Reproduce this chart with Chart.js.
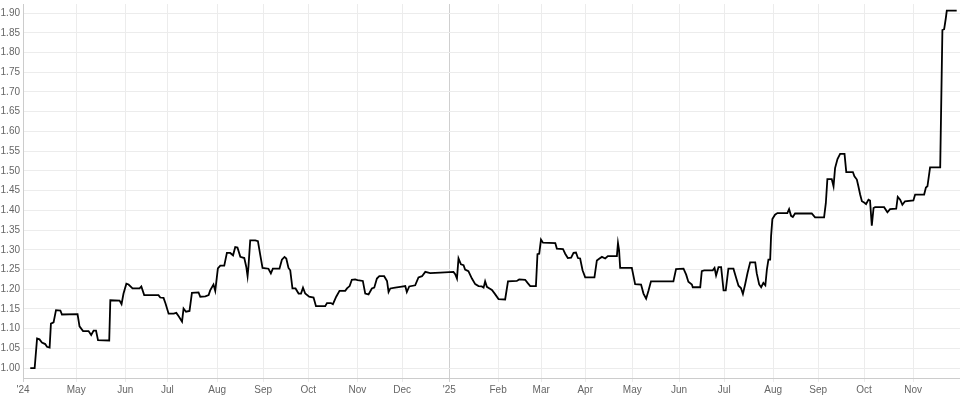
<!DOCTYPE html>
<html>
<head>
<meta charset="utf-8">
<script src="https://cdn.jsdelivr.net/npm/chart.js@4/dist/chart.umd.min.js"></script>
<style>
  html, body { margin: 0; padding: 0; background: #fff; }
  #wrap { width: 960px; height: 404px; position: relative; }
</style>
</head>
<body>
<div id="wrap"><canvas id="c"></canvas></div>
<script>
// Trading-day index since the start of the x axis
const tradingDay = [
  3.3, 5.3, 6.4, 7.5, 8.6, 10.1, 10.9, 12.1, 12.7, 13.9, 15.0, 17.0, 17.7, 24.8, 25.7, 27.3, 29.8, 31.0, 32.1, 33.2,
  34.1, 39.2, 39.7, 43.9, 44.8, 45.7, 47.0, 48.0, 49.8, 53.0, 53.8, 55.1, 61.6, 62.4, 63.9, 64.8, 66.2, 68.5, 69.7, 70.7,
  72.3, 73.0, 74.1, 75.7, 76.8, 79.8, 80.6, 82.9, 84.4, 85.1, 86.6, 87.4, 88.6, 89.7, 91.5, 92.7, 94.2, 95.5, 96.5, 97.5,
  98.8, 100.6, 101.5, 102.1, 102.5, 103.3, 105.6, 106.8, 107.9, 108.9, 111.6, 112.7, 113.6, 116.6, 117.7, 118.9, 119.7, 120.7, 121.5, 122.5,
  123.9, 125.3, 126.4, 127.3, 128.3, 130.1, 132.1, 133.2, 137.4, 138.2, 140.0, 140.9, 142.4, 143.9, 146.5, 147.3, 148.5, 149.5, 151.0, 152.1,
  154.5, 155.6, 157.1, 158.6, 159.7, 160.9, 162.0, 164.2, 165.5, 166.2, 167.0, 169.2, 171.5, 173.8, 174.5, 175.6, 178.3, 179.8, 181.4, 182.9,
  185.1, 189.7, 195.7, 196.5, 197.3, 198.0, 199.1, 200.3, 201.0, 202.5, 204.1, 205.6, 207.1, 208.6, 209.4, 210.1, 210.9, 212.1, 213.2, 214.7,
  216.2, 219.2, 220.5, 224.5, 225.6, 228.3, 229.4, 230.6, 233.2, 233.9, 234.7, 235.5, 236.4, 242.0, 242.7, 245.5, 246.5, 247.7, 249.2, 250.3,
  251.4, 252.3, 253.3, 254.4, 255.6, 259.8, 260.9, 262.1, 263.2, 264.7, 265.9, 270.0, 270.5, 271.0, 271.5, 276.8, 278.3, 281.0, 282.1, 283.3,
  284.4, 285.5, 295.7, 296.9, 300.3, 301.5, 302.5, 304.1, 304.5, 307.9, 308.6, 309.7, 313.6, 314.4, 315.1, 316.2, 317.4, 318.5, 319.5, 320.7,
  323.0, 324.2, 325.3, 326.4, 327.3, 328.3, 329.4, 330.6, 332.9, 333.6, 334.7, 335.6, 336.6, 337.5, 338.2, 338.9, 339.7, 340.1, 340.7, 341.9,
  343.0, 347.5, 348.3, 349.2, 350.0, 351.0, 358.6, 360.1, 364.2, 365.0, 365.7, 367.7, 368.5, 369.2, 370.3, 371.5, 373.5, 374.3, 377.3, 378.0,
  379.1, 379.8, 380.6, 381.4, 382.4, 383.3, 384.4, 385.1, 385.9, 386.7, 387.4, 391.5, 393.0, 394.2, 397.0, 397.7, 398.8, 399.8, 401.0, 404.8,
  405.6, 409.7, 410.5, 411.2, 412.4, 417.0, 418.0, 418.8, 419.5, 420.0, 424.5
];
const closeValue = [
  1.000, 1.000, 1.075, 1.073, 1.065, 1.061, 1.054, 1.052, 1.113, 1.116, 1.147, 1.146, 1.136, 1.137, 1.106, 1.094, 1.094, 1.084, 1.095, 1.095,
  1.071, 1.070, 1.172, 1.171, 1.162, 1.189, 1.214, 1.212, 1.202, 1.202, 1.207, 1.185, 1.185, 1.179, 1.178, 1.164, 1.138, 1.138, 1.140, 1.132,
  1.118, 1.151, 1.143, 1.145, 1.191, 1.192, 1.181, 1.182, 1.185, 1.197, 1.212, 1.196, 1.253, 1.260, 1.260, 1.292, 1.292, 1.286, 1.307, 1.306,
  1.282, 1.279, 1.257, 1.233, 1.257, 1.324, 1.324, 1.322, 1.286, 1.254, 1.252, 1.240, 1.252, 1.252, 1.275, 1.282, 1.278, 1.254, 1.248, 1.202,
  1.202, 1.189, 1.189, 1.204, 1.189, 1.181, 1.179, 1.157, 1.157, 1.165, 1.165, 1.162, 1.181, 1.196, 1.196, 1.202, 1.208, 1.224, 1.225, 1.223,
  1.221, 1.189, 1.187, 1.202, 1.204, 1.227, 1.233, 1.233, 1.221, 1.193, 1.202, 1.204, 1.206, 1.208, 1.193, 1.207, 1.210, 1.230, 1.233, 1.244,
  1.241, 1.242, 1.244, 1.238, 1.227, 1.278, 1.263, 1.261, 1.250, 1.246, 1.227, 1.213, 1.208, 1.207, 1.204, 1.220, 1.206, 1.202, 1.198, 1.187,
  1.175, 1.174, 1.220, 1.221, 1.225, 1.224, 1.216, 1.208, 1.208, 1.289, 1.290, 1.326, 1.318, 1.317, 1.303, 1.302, 1.290, 1.279, 1.280, 1.292,
  1.293, 1.279, 1.278, 1.248, 1.230, 1.230, 1.273, 1.278, 1.282, 1.278, 1.284, 1.284, 1.317, 1.299, 1.254, 1.254, 1.213, 1.212, 1.189, 1.176,
  1.197, 1.220, 1.220, 1.251, 1.252, 1.237, 1.219, 1.212, 1.205, 1.205, 1.246, 1.248, 1.248, 1.254, 1.235, 1.256, 1.256, 1.197, 1.197, 1.252,
  1.252, 1.229, 1.209, 1.203, 1.188, 1.212, 1.241, 1.268, 1.268, 1.240, 1.212, 1.205, 1.216, 1.210, 1.250, 1.275, 1.275, 1.334, 1.378, 1.389,
  1.393, 1.393, 1.403, 1.386, 1.383, 1.392, 1.392, 1.382, 1.382, 1.418, 1.479, 1.479, 1.461, 1.507, 1.530, 1.543, 1.543, 1.497, 1.497, 1.486,
  1.478, 1.461, 1.440, 1.423, 1.420, 1.416, 1.427, 1.425, 1.361, 1.406, 1.408, 1.408, 1.395, 1.403, 1.404, 1.434, 1.427, 1.414, 1.423, 1.425,
  1.440, 1.440, 1.458, 1.461, 1.509, 1.509, 1.857, 1.859, 1.885, 1.906, 1.906
];

// Month boundaries (trading-day index) and their labels
const monthTickPos = [0, 24.2, 46.5, 65.6, 88.3, 109.2, 129.7, 152, 172.4, 193.8, 216, 235.6, 255.6, 277, 298.3, 318.8, 341.1, 361.5, 382.4, 404.7];
const monthTickLabels = ["'24", "May", "Jun", "Jul", "Aug", "Sep", "Oct", "Nov", "Dec", "'25", "Feb", "Mar", "Apr", "May", "Jun", "Jul", "Aug", "Sep", "Oct", "Nov"];
const yTickValues = [1.00, 1.05, 1.10, 1.15, 1.20, 1.25, 1.30, 1.35, 1.40, 1.45, 1.50, 1.55, 1.60, 1.65, 1.70, 1.75, 1.80, 1.85, 1.90];

const points = tradingDay.map((d, i) => ({ x: d, y: closeValue[i] }));
const FONT = { family: "'Liberation Sans', Arial, sans-serif", size: 10 };

new Chart(document.getElementById('c'), {
  type: 'line',
  data: {
    datasets: [{
      data: points,
      borderColor: '#000',
      borderWidth: 1.8,
      pointRadius: 0,
      tension: 0,
      fill: false
    }]
  },
  options: {
    responsive: true,
    maintainAspectRatio: false,
    animation: false,
    layout: { padding: { top: 4, right: 0, left: 0, bottom: 0 } },
    plugins: { legend: { display: false }, tooltip: { enabled: false } },
    scales: {
      x: {
        type: 'linear',
        min: 0,
        max: 426,
        afterBuildTicks: (scale) => { scale.ticks = monthTickPos.map(v => ({ value: v })); },
        afterFit: (scale) => { scale.height = 26; scale.paddingLeft = 0; scale.paddingRight = 0; },
        ticks: {
          autoSkip: false,
          maxRotation: 0,
          color: '#666',
          font: FONT,
          padding: 2,
          callback: (v, i) => monthTickLabels[i]
        },
        grid: {
          color: (ctx) => {
            const lab = monthTickLabels[ctx.index];
            return (lab && lab.startsWith("'")) ? '#cfcfcf' : '#ececec';
          },
          lineWidth: 1,
          tickLength: 4,
          drawTicks: true
        },
        border: { color: '#cccccc', width: 1 }
      },
      y: {
        type: 'linear',
        min: 0.975,
        max: 1.923,
        afterBuildTicks: (scale) => { scale.ticks = yTickValues.map(v => ({ value: v })); },
        afterFit: (scale) => { scale.width = 23; scale.paddingTop = 0; scale.paddingBottom = 0; },
        ticks: {
          color: '#666',
          font: FONT,
          padding: 3,
          callback: (v) => Number(v).toFixed(2)
        },
        grid: { color: '#ececec', drawTicks: false, lineWidth: 1 },
        border: { color: '#cccccc', width: 1 }
      }
    }
  }
});
</script>
</body>
</html>
